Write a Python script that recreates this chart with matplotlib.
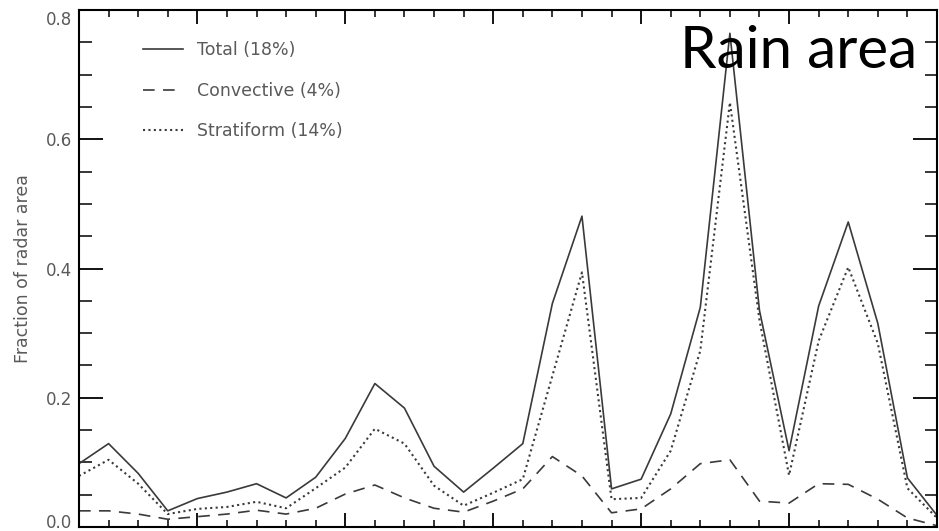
import matplotlib
matplotlib.use("Agg")
import matplotlib.pyplot as plt
import matplotlib.transforms as mtransforms
from matplotlib.ticker import MultipleLocator, FixedLocator

# Data (fraction of radar area per time step)
steps = list(range(30))
total = [0.098, 0.129, 0.083, 0.025, 0.044, 0.054, 0.067, 0.045, 0.077, 0.137,
         0.222, 0.184, 0.094, 0.054, 0.091, 0.129, 0.346, 0.481, 0.059, 0.074,
         0.175, 0.340, 0.764, 0.335, 0.118, 0.342, 0.472, 0.315, 0.076, 0.018]
convective = [0.025, 0.025, 0.020, 0.012, 0.016, 0.020, 0.026, 0.020, 0.029, 0.051,
              0.065, 0.045, 0.029, 0.023, 0.040, 0.059, 0.109, 0.079, 0.022, 0.028,
              0.059, 0.098, 0.104, 0.040, 0.037, 0.067, 0.066, 0.043, 0.014, 0.002]
stratiform = [0.079, 0.104, 0.067, 0.020, 0.028, 0.031, 0.039, 0.029, 0.060, 0.092,
              0.152, 0.129, 0.064, 0.033, 0.053, 0.074, 0.234, 0.394, 0.043, 0.045,
              0.118, 0.273, 0.657, 0.320, 0.080, 0.288, 0.402, 0.284, 0.060, 0.014]
labels = ["Total (18%)", "Convective (4%)", "Stratiform (14%)"]
yticks = [0.0, 0.2, 0.4, 0.6, 0.8]
ytick_labels = ["0.0", "0.2", "0.4", "0.6", "0.8"]
ylabel = "Fraction of radar area"
title_text = "Rain area"

fig = plt.figure(figsize=(9.39, 5.31), dpi=100)
ax = fig.add_axes([79/939, 1 - 527/531, (937 - 79)/939, (527 - 10)/531])

lc = "#3a3a3a"
ax.plot(steps, total, color=lc, lw=1.2, ls="-", label=labels[0])
ax.plot(steps, convective, color=lc, lw=1.2, ls=(0, (7, 5)), label=labels[1])
ax.plot(steps, stratiform, color=lc, lw=1.5, ls=(0, (1, 1.6)), label=labels[2])

ax.set_xlim(0, 29)
ax.set_ylim(0, 0.8)
ax.xaxis.set_major_locator(FixedLocator([4, 9, 14, 19, 24]))
ax.xaxis.set_minor_locator(MultipleLocator(1))
ax.set_xticklabels([])
ax.set_yticks(yticks)
ax.set_yticklabels(ytick_labels)
ax.yaxis.set_minor_locator(MultipleLocator(0.05))

ax.tick_params(axis="both", which="both", direction="in", top=True, right=True,
               color="black", labelcolor="#5a5a5a", labelsize=12)
ax.tick_params(axis="y", which="major", length=17, width=1.3, pad=5)
ax.tick_params(axis="y", which="minor", length=9, width=1.1)
ax.tick_params(axis="x", which="major", length=10, width=1.3)
ax.tick_params(axis="x", which="minor", length=5, width=1.1)
for s in ax.spines.values():
    s.set_linewidth(1.5)
    s.set_color("black")

# shift end labels inward as in the reference
ylabs = ax.yaxis.get_majorticklabels()
ylabs[0].set_transform(ylabs[0].get_transform() +
                       mtransforms.ScaledTranslation(0, 6/100, fig.dpi_scale_trans))
ylabs[-1].set_transform(ylabs[-1].get_transform() +
                        mtransforms.ScaledTranslation(0, -8/100, fig.dpi_scale_trans))

ax.set_ylabel(ylabel, color="#5a5a5a", fontsize=12.5, labelpad=10)

leg = ax.legend(loc="upper left", bbox_to_anchor=(0.0563, 0.970), frameon=False,
                handlelength=2.3, labelspacing=1.3, fontsize=12.5,
                handletextpad=0.8, labelcolor="#5a5a5a")

fig.text(917/939, 1 - 68/531, title_text, ha="right", va="baseline",
         fontsize=42, family="Lato", color="black")

fig.savefig("out.png", dpi=100)
